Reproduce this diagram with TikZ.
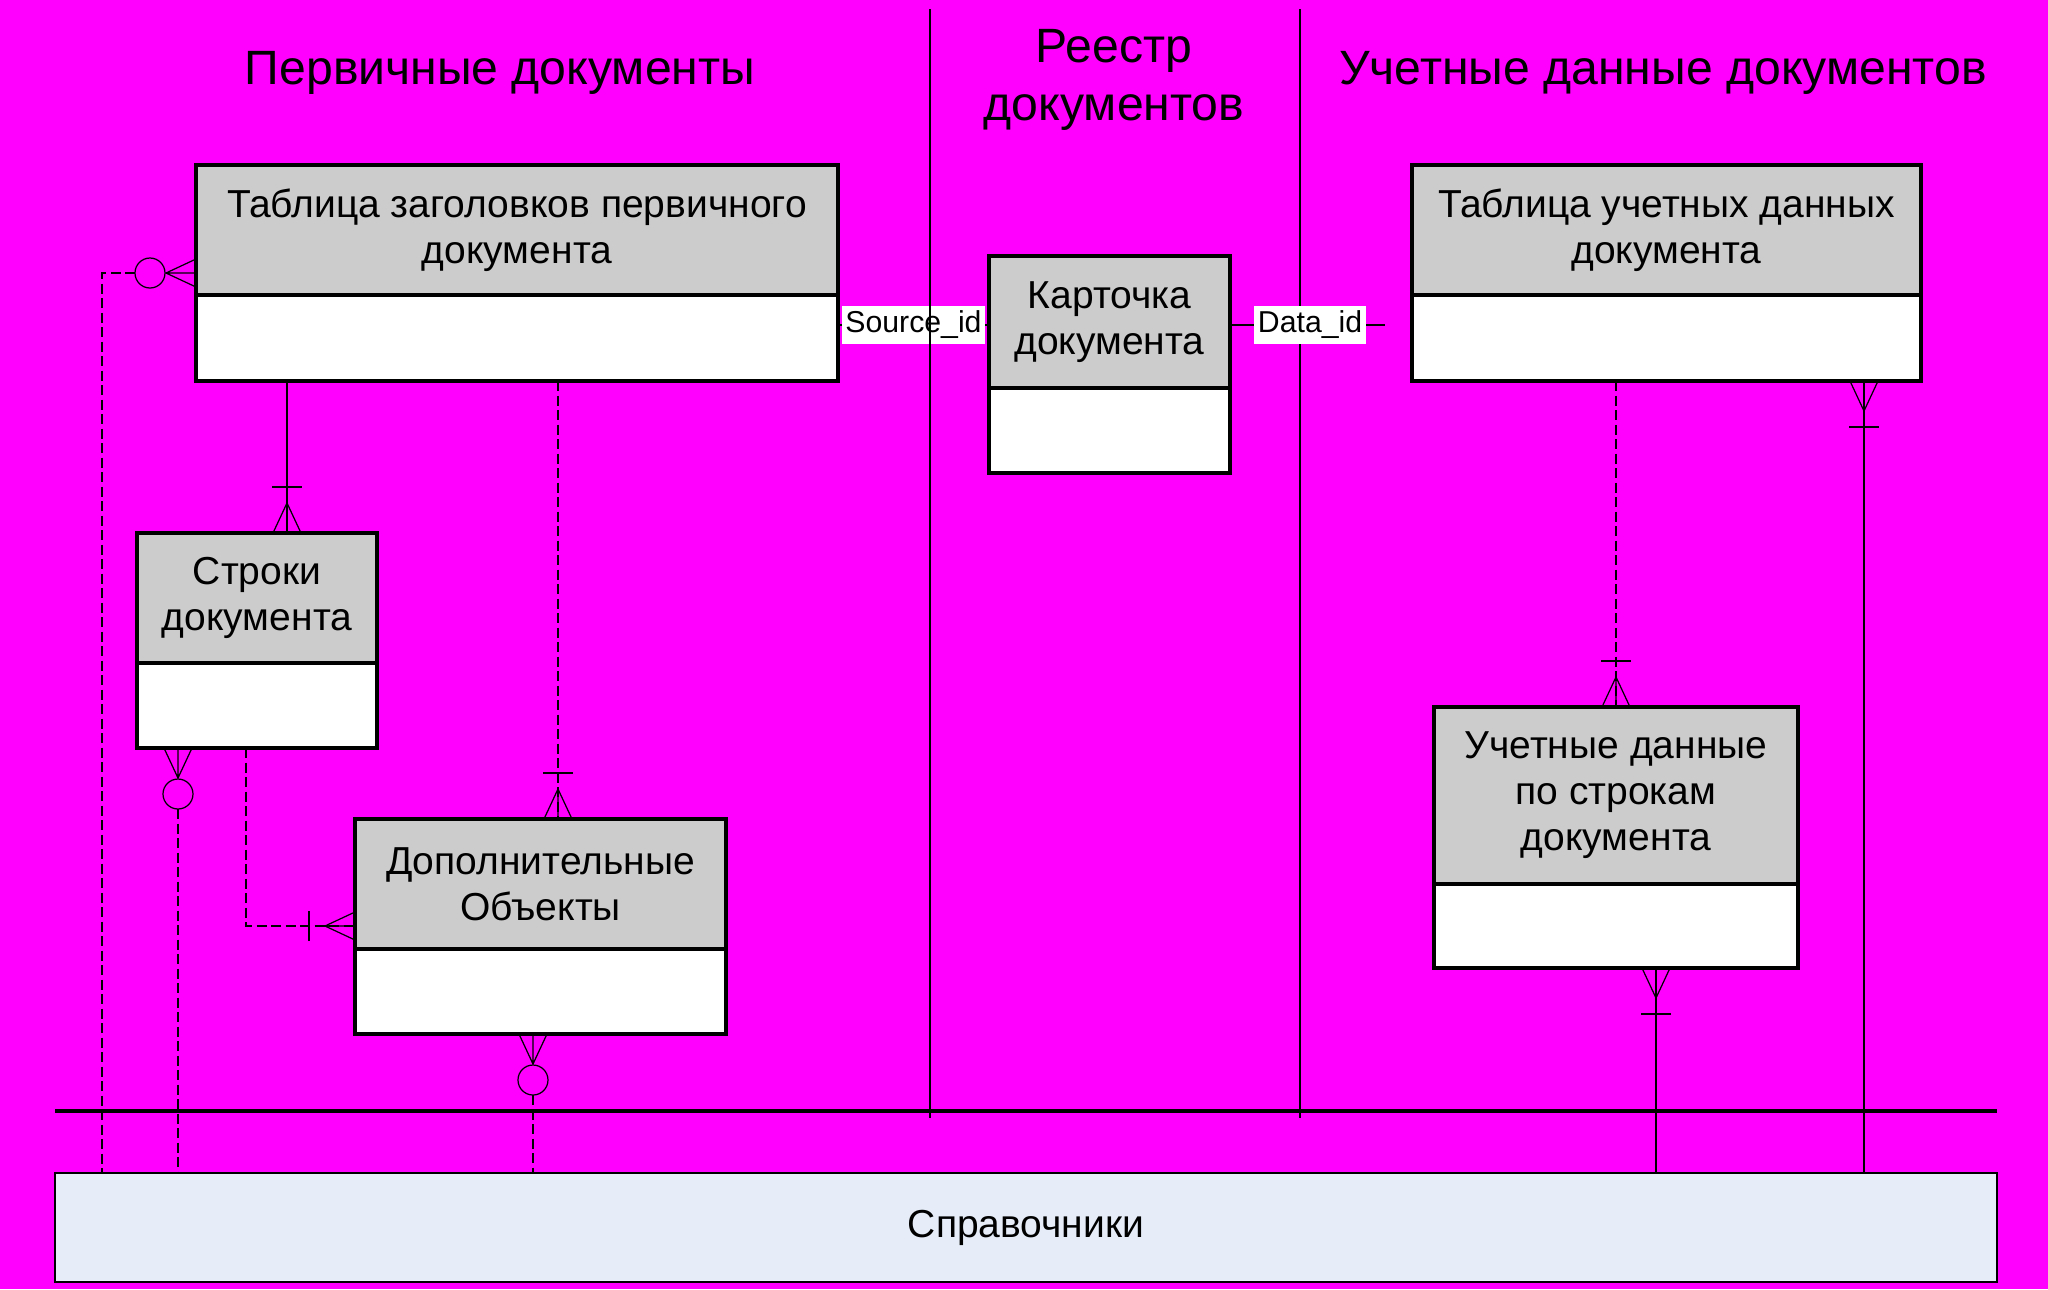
\documentclass[tikz,border=0pt]{standalone}
\usepackage{fontspec}
\setmainfont{Liberation Sans}
\usepackage{xcolor}
\usepackage{tikz}
\usetikzlibrary{positioning, calc}

\definecolor{bgpink}{RGB}{255,0,255}
\definecolor{hdrgray}{RGB}{204,204,204}
\definecolor{refblue}{RGB}{230,237,248}
\newcommand{\boxfont}{\fontsize{11.1}{13.1}\selectfont}
\newcommand{\titlefont}{\fontsize{13.7}{16.5}\selectfont}

\begin{document}
\begin{tikzpicture}[node distance=0pt]

    % Define styles
    \tikzstyle{hdr} = [rectangle, draw=black, line width=1.2pt, fill=hdrgray, outer sep=0pt, align=center, font=\boxfont]
    \tikzstyle{body} = [rectangle, draw=black, line width=1.2pt, fill=white, outer sep=0pt]
    \tikzstyle{title} = [align=center, font=\titlefont]
    \tikzstyle{rel} = [draw=black, line width=0.4pt]
    \tikzstyle{dashrel} = [draw=black, line width=0.8pt, dash pattern=on 0.1cm off 0.045cm]
    \tikzstyle{foot} = [draw=black, line width=0.35pt]
    \tikzstyle{idlabel} = [fill=white, inner xsep=1pt, inner ysep=1.5pt, font=\fontsize{8.6}{10}\selectfont]
    \tikzset{
      onemany/.pic={\draw[foot] (-0.14,0) -- (0,0.30) -- (0.14,0) (0,0) -- (0,0.30);
                    \draw[foot] (-0.15,0.46) -- (0.15,0.46);},
      zeromany/.pic={\draw[foot] (-0.14,0) -- (0,0.30) -- (0.14,0) (0,0) -- (0,0.30);
                     \draw[foot] (0,0.46) circle (0.15);}
    }

    % Background
    \fill[bgpink] (0,0) rectangle (20.48,-12.89);
    \draw[line width=0.4pt] (13.00,-0.09) -- (13.00,-11.18);

    % Titles
    \node (perv) [title] at (5.00,-0.73) {Первичные документы};
    \node (reestr) [title] at (11.14,-0.80) {Реестр\\документов};
    \node (uchet) [title] at (16.63,-0.73) {Учетные данные документов};

    % Nodes
    \node (zagol) [hdr, anchor=north west, minimum width=6.42cm, minimum height=1.30cm] at (1.96,-1.65) {Таблица заголовков первичного\\документа};
    \node (zagolbody) [body, below=of zagol, minimum width=6.42cm, minimum height=0.86cm] {};

    \node (stroki) [hdr, anchor=north west, minimum width=2.40cm, minimum height=1.30cm] at (1.37,-5.33) {Строки\\документа};
    \node (strokibody) [body, below=of stroki, minimum width=2.40cm, minimum height=0.85cm] {};

    \node (dopobj) [hdr, anchor=north west, minimum width=3.71cm, minimum height=1.30cm] at (3.55,-8.19) {Дополнительные\\Объекты};
    \node (dopobjbody) [body, below=of dopobj, minimum width=3.71cm, minimum height=0.85cm] {};

    \node (kartochka) [hdr, anchor=north west, minimum width=2.41cm, minimum height=1.32cm] at (9.89,-2.56) {Карточка\\документа};
    \node (kartochkabody) [body, below=of kartochka, minimum width=2.41cm, minimum height=0.85cm] {};

    \node (uchtabl) [hdr, anchor=north west, minimum width=5.09cm, minimum height=1.30cm] at (14.12,-1.65) {Таблица учетных данных\\документа};
    \node (uchtablbody) [body, below=of uchtabl, minimum width=5.09cm, minimum height=0.86cm] {};

    \node (uchstroki) [hdr, anchor=north west, minimum width=3.64cm, minimum height=1.77cm] at (14.34,-7.07) {Учетные данные\\по строкам\\документа};
    \node (uchstrokibody) [body, below=of uchstroki, minimum width=3.64cm, minimum height=0.84cm] {};

    \node (sprav) [rectangle, draw=black, line width=0.5pt, fill=refblue, anchor=north west, minimum width=19.42cm, minimum height=1.09cm, outer sep=0pt, font=\boxfont] at (0.55,-11.73) {Справочники};

    \draw[line width=1.3pt] (0.55,-11.11) -- (19.97,-11.11);

    % Lines
    \coordinate (a1) at ($(stroki.north west)+(1.50,0)$);
    \draw[rel] (a1 |- zagolbody.south) -- (a1);
    \pic at (a1) {onemany};

    \coordinate (a2) at ($(dopobj.north west)+(2.03,0)$);
    \draw[dashrel] (a2 |- zagolbody.south) -- (a2);
    \pic at (a2) {onemany};

    \coordinate (a3) at ($(zagol.south west)+(0,0.22)$);
    \pic[rotate=90] at (a3) {zeromany};
    \draw[dashrel] ($(a3)+(-0.61,0)$) -| ($(sprav.north west)+(0.47,0)$);

    \coordinate (a4) at ($(strokibody.south west)+(0.41,0)$);
    \pic[rotate=180] at (a4) {zeromany};
    \draw[dashrel] ($(a4)+(0,-0.61)$) -- (a4 |- sprav.north);

    \coordinate (a5) at ($(dopobj.south west)+(0,0.23)$);
    \draw[dashrel] ($(strokibody.south west)+(1.09,0)$) |- (a5);
    \pic[rotate=90] at (a5) {onemany};

    \coordinate (a6) at ($(dopobjbody.south west)+(1.78,0)$);
    \pic[rotate=180] at (a6) {zeromany};
    \draw[dashrel] ($(a6)+(0,-0.61)$) -- (a6 |- sprav.north);

    \coordinate (k1) at ($(kartochka.west)+(0,-0.03)$);
    \coordinate (k2) at ($(kartochka.east)+(0,-0.03)$);
    \draw[rel] (k1 -| zagolbody.east) -- node[idlabel] {Source\_id} (k1);
    \draw[rel, shorten >=0.27cm] (k2) -- node[idlabel, pos=0.44] {Data\_id} (k2 -| uchtabl.west);

    \coordinate (a9) at ($(uchstroki.north west)+(1.82,0)$);
    \draw[dashrel] (a9 |- uchtablbody.south) -- (a9);
    \pic at (a9) {onemany};

    \coordinate (a10) at ($(uchtablbody.south west)+(4.52,0)$);
    \pic[rotate=180] at (a10) {onemany};
    \draw[rel] (a10) -- (a10 |- sprav.north);

    \coordinate (a11) at ($(uchstrokibody.south west)+(2.22,0)$);
    \pic[rotate=180] at (a11) {onemany};
    \draw[rel] (a11) -- (a11 |- sprav.north);

    \draw[line width=0.4pt] (9.30,-0.09) -- (9.30,-11.18);

\end{tikzpicture}
\end{document}
